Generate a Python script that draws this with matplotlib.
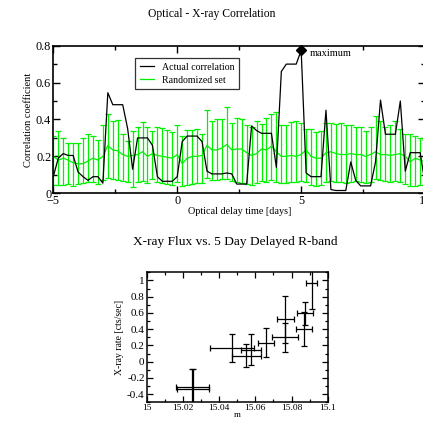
import matplotlib
matplotlib.use('Agg')
import matplotlib.pyplot as plt
import numpy as np
from matplotlib.lines import Line2D
from matplotlib.ticker import MultipleLocator, FormatStrFormatter

plt.rcParams['font.family'] = ['Liberation Serif', 'DejaVu Serif']

# --- top panel data: delay grid, actual correlation, randomized set ---
delay = np.round(np.arange(-5.0, 10.01, 0.2), 2)

actual_corr = [0.09, 0.19, 0.215, 0.205, 0.205, 0.115, 0.09, 0.07, 0.09, 0.09,
               0.055, 0.545, 0.48, 0.48, 0.48, 0.35, 0.13, 0.30, 0.30, 0.30,
               0.26, 0.09, 0.065, 0.065, 0.065, 0.09, 0.28, 0.31, 0.31, 0.31,
               0.28, 0.12, 0.105, 0.105, 0.105, 0.11, 0.105, 0.05, 0.05, 0.05,
               0.365, 0.34, 0.325, 0.325, 0.325, 0.14, 0.66, 0.70, 0.70, 0.70,
               0.775, 0.11, 0.09, 0.09, 0.09, 0.45, 0.02, 0.015, 0.015, 0.015,
               0.17, 0.07, 0.04, 0.04, 0.04, 0.17, 0.505, 0.32, 0.32, 0.32,
               0.50, 0.12, 0.22, 0.22, 0.22, 0.05]

rand_mean = [0.20, 0.18, 0.19, 0.18, 0.165, 0.16, 0.16, 0.175, 0.19, 0.18,
             0.20, 0.26, 0.235, 0.23, 0.21, 0.20, 0.205, 0.21, 0.225, 0.20,
             0.215, 0.205, 0.20, 0.195, 0.19, 0.21, 0.16, 0.19, 0.20, 0.20,
             0.205, 0.26, 0.235, 0.235, 0.245, 0.265, 0.235, 0.24, 0.24, 0.22,
             0.205, 0.215, 0.24, 0.235, 0.255, 0.225, 0.20, 0.20, 0.205, 0.20,
             0.21, 0.235, 0.20, 0.19, 0.19, 0.22, 0.225, 0.215, 0.21, 0.21,
             0.215, 0.21, 0.21, 0.20, 0.21, 0.225, 0.21, 0.21, 0.205, 0.21,
             0.215, 0.20, 0.17, 0.19, 0.18, 0.17]

rand_hi = [0.31, 0.34, 0.30, 0.27, 0.27, 0.27, 0.30, 0.32, 0.31, 0.29,
           0.37, 0.43, 0.39, 0.395, 0.32, 0.285, 0.34, 0.36, 0.385, 0.36,
           0.335, 0.36, 0.355, 0.345, 0.33, 0.37, 0.31, 0.345, 0.345, 0.35,
           0.32, 0.45, 0.39, 0.40, 0.405, 0.465, 0.38, 0.41, 0.405, 0.37,
           0.36, 0.39, 0.375, 0.41, 0.43, 0.44, 0.37, 0.37, 0.385, 0.39,
           0.38, 0.35, 0.35, 0.33, 0.34, 0.38, 0.38, 0.375, 0.38, 0.37,
           0.37, 0.36, 0.36, 0.34, 0.36, 0.42, 0.39, 0.36, 0.37, 0.39,
           0.35, 0.32, 0.32, 0.31, 0.30, 0.29]

rand_lo = [0.045, 0.045, 0.045, 0.05, 0.04, 0.05, 0.055, 0.06, 0.06, 0.05,
           0.07, 0.085, 0.075, 0.07, 0.065, 0.06, 0.035, 0.06, 0.065, 0.055,
           0.075, 0.06, 0.055, 0.05, 0.045, 0.06, 0.04, 0.045, 0.05, 0.055,
           0.055, 0.085, 0.07, 0.07, 0.075, 0.08, 0.065, 0.06, 0.055, 0.05,
           0.045, 0.055, 0.065, 0.06, 0.07, 0.06, 0.055, 0.055, 0.06, 0.06,
           0.065, 0.06, 0.045, 0.04, 0.045, 0.06, 0.065, 0.06, 0.06, 0.055,
           0.06, 0.065, 0.06, 0.055, 0.06, 0.075, 0.07, 0.065, 0.06, 0.065,
           0.06, 0.05, 0.04, 0.04, 0.045, 0.045]

peak_delay = 5.0
peak_corr = 0.775

# --- bottom panel data: R-band mag vs X-ray rate ---
mag = [15.0252, 15.0256, 15.047, 15.0549, 15.0575, 15.066, 15.0765, 15.0766, 15.0875, 15.087, 15.0912]
mag_err = [0.009, 0.009, 0.012, 0.008, 0.0055, 0.0045, 0.0073, 0.0045, 0.0045, 0.0045, 0.003]
xrate = [-0.315, -0.335, 0.17, 0.075, 0.145, 0.235, 0.30, 0.52, 0.595, 0.40, 0.965]
xrate_err = [0.225, 0.24, 0.175, 0.145, 0.19, 0.175, 0.18, 0.285, 0.14, 0.21, 0.32]

green = '#00f000'

fig = plt.figure(figsize=(4.23, 4.22), dpi=100)

# top panel
ax1 = fig.add_axes([0.126, 0.542, 0.879, 0.3498])
rand_mean = np.array(rand_mean)
yerr = [rand_mean - np.array(rand_lo), np.array(rand_hi) - rand_mean]
ax1.errorbar(delay, rand_mean, yerr=yerr, color=green, lw=0.9,
             elinewidth=0.9, capsize=2.2, capthick=0.9, zorder=2)
ax1.plot(delay, actual_corr, color='black', lw=0.9, zorder=3)
ax1.plot([peak_delay], [peak_corr], marker='D', color='black', ms=5, zorder=4, clip_on=False)
ax1.text(peak_delay + 0.35, peak_corr - 0.02, 'maximum', fontsize=7.5, va='center')

ax1.set_xlim(-5, 10)
ax1.set_ylim(0, 0.8)
ax1.xaxis.set_major_locator(MultipleLocator(5))
ax1.xaxis.set_minor_locator(MultipleLocator(2.5))
ax1.yaxis.set_major_locator(MultipleLocator(0.2))
ax1.yaxis.set_minor_locator(MultipleLocator(0.1))
ax1.yaxis.set_major_formatter(FormatStrFormatter('%g'))
ax1.tick_params(which='both', direction='in', top=True, right=True, labelsize=8.8, pad=1.5)
ax1.tick_params(which='major', length=5, width=1)
ax1.tick_params(which='minor', length=3, width=1)
for s in ax1.spines.values():
    s.set_linewidth(1.2)
ax1.set_xlabel('Optical delay time [days]', fontsize=7.3, labelpad=0)
ax1.set_ylabel('Correlation coefficient', fontsize=7.5, labelpad=2)

leg_handles = [Line2D([], [], color='black', lw=0.9), Line2D([], [], color=green, lw=0.9)]
leg = ax1.legend(leg_handles, ['Actual correlation', 'Randomized set'], loc='upper left',
                 bbox_to_anchor=(0.22, 0.915), fontsize=7.1, frameon=True, fancybox=False,
                 edgecolor='black', handlelength=1.5, borderpad=0.45, labelspacing=0.4,
                 handletextpad=0.8, borderaxespad=0)
leg.get_frame().set_linewidth(0.9)

fig.text(0.5, 0.967, 'Optical - X-ray Correlation', fontsize=8.4, ha='center', va='center')

# bottom panel
ax2 = fig.add_axes([0.3468, 0.0467, 0.428, 0.308])
ax2.errorbar(mag, xrate, xerr=mag_err, yerr=xrate_err, fmt='none', ecolor='black',
             elinewidth=0.9, capsize=2.0, capthick=0.9)
ax2.set_xlim(15.0, 15.1)
ax2.set_ylim(-0.5, 1.1)
ax2.xaxis.set_major_locator(MultipleLocator(0.02))
ax2.xaxis.set_minor_locator(MultipleLocator(0.01))
ax2.xaxis.set_major_formatter(FormatStrFormatter('%g'))
ax2.yaxis.set_major_locator(MultipleLocator(0.2))
ax2.yaxis.set_minor_locator(MultipleLocator(0.1))
ax2.yaxis.set_major_formatter(FormatStrFormatter('%g'))
ax2.tick_params(which='both', direction='in', top=True, right=True, pad=1.5)
ax2.tick_params(axis='y', labelsize=8)
ax2.tick_params(axis='x', labelsize=6.8)
ax2.tick_params(which='major', length=4, width=0.9)
ax2.tick_params(which='minor', length=2.5, width=0.9)
for s in ax2.spines.values():
    s.set_linewidth(1.1)
ax2.set_xlabel('m', fontsize=6.5, labelpad=-1)
ax2.set_ylabel('X-ray rate [cts/sec]', fontsize=7, labelpad=2)

fig.text(0.556, 0.4265, 'X-ray Flux vs. 5 Day Delayed R-band', fontsize=9.6, ha='center', va='center')

fig.savefig('out.png', dpi=100)
